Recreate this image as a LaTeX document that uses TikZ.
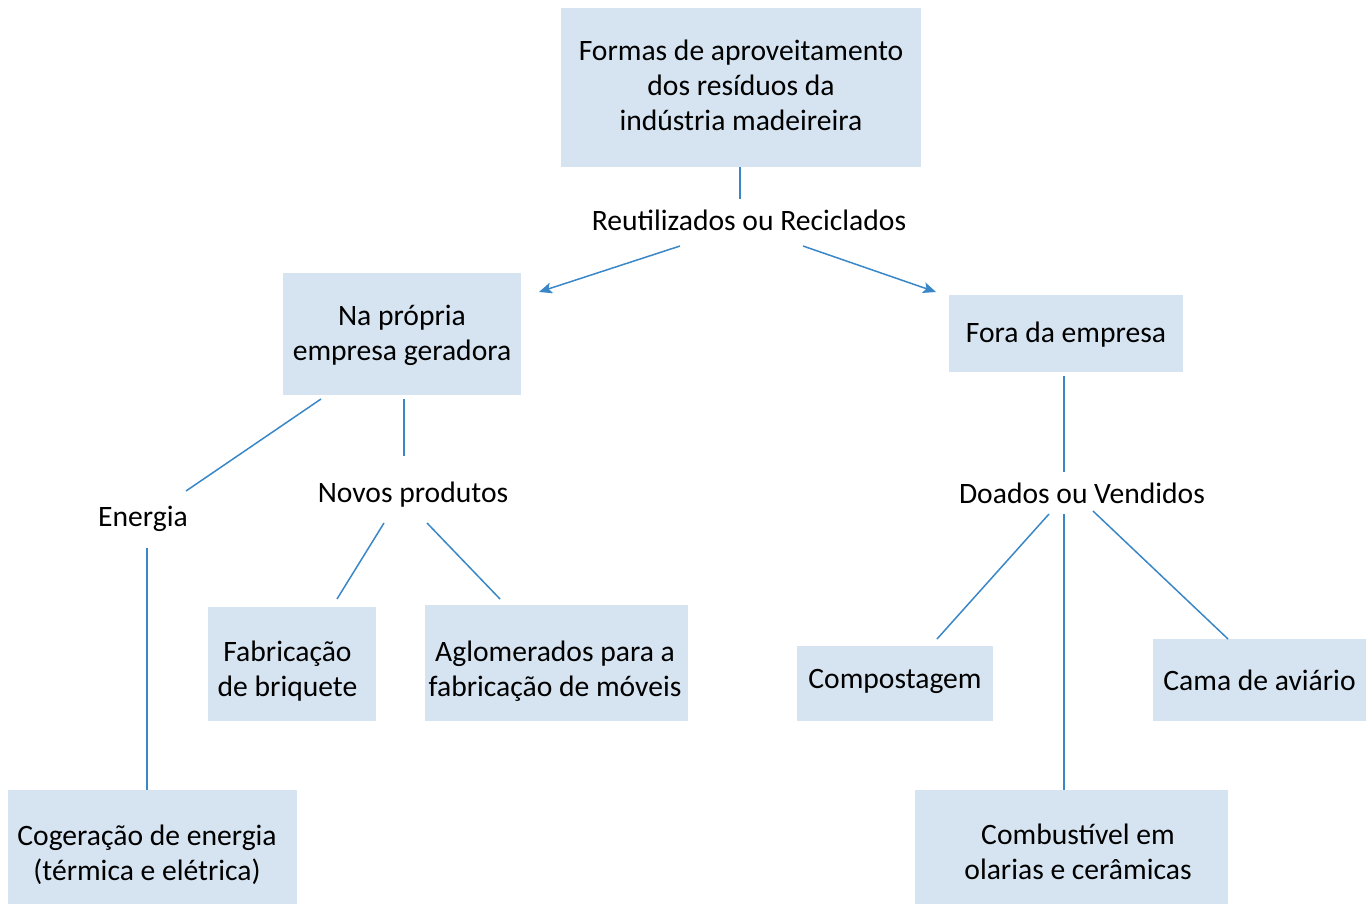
\documentclass[tikz,border=0pt]{standalone}
\usepackage{fontspec}
\setmainfont{Carlito}
\usetikzlibrary{arrows.meta}
\definecolor{boxfill}{HTML}{D6E4F1}
\definecolor{linec}{HTML}{3A87C8}
\begin{document}
\begin{tikzpicture}[x=0.5pt,y=-0.5pt,
  every node/.style={font=\fontsize{14.8}{17.5}\selectfont, align=center, text=black},
  box/.style={fill=boxfill, inner sep=0pt},
  lbl/.style={inner sep=0pt},
  ln/.style={draw=linec, line width=0.75pt},
  arr/.style={ln, -{Stealth[length=6.5pt,width=5.5pt,inset=1.5pt]}}]
\useasboundingbox (0,0) rectangle (1372,905);
% boxes
\node[box, minimum width=180pt, minimum height=79.5pt,
  label={[name=topt, inner sep=0pt, yshift=1.25pt]center:Formas de aproveitamento\\dos resíduos da\\indústria madeireira}] (top) at (741,87.5) {};
\node[lbl] (reut) at (749,220) {Reutilizados ou Reciclados};
\node[box, minimum width=119pt, minimum height=61pt,
  label={[name=napt, inner sep=0pt, yshift=-0.75pt]center:Na própria\\empresa geradora}] (nap) at (402,334) {};
\node[box, minimum width=117pt, minimum height=38.5pt,
  label={[name=forat, inner sep=0pt, yshift=-0.5pt]center:Fora da empresa}] (fora) at (1066,333.5) {};
\node[lbl] (energia) at (143,519) {Energia};
\node[lbl] (novos) at (413,495) {Novos produtos};
\node[lbl] (doados) at (1082,493) {Doados ou Vendidos};
\node[box, minimum width=84pt, minimum height=57pt,
  label={[name=briqt, inner sep=0pt, xshift=-2.25pt, yshift=-3.75pt]center:Fabricação\\de briquete}] (briq) at (292,664) {};
\node[box, minimum width=131.5pt, minimum height=58pt,
  label={[name=aglomt, inner sep=0pt, xshift=-0.75pt, yshift=-4pt]center:Aglomerados para a\\fabricação de móveis}] (aglom) at (556.5,663) {};
\node[box, minimum width=98pt, minimum height=37.5pt,
  label={[name=compt, inner sep=0pt, yshift=1pt]center:Compostagem}] (comp) at (895,683.5) {};
\node[box, minimum width=106.5pt, minimum height=41pt,
  label={[name=camat, inner sep=0pt]center:Cama de aviário}] (cama) at (1259.5,680) {};
\node[box, minimum width=156.5pt, minimum height=57pt,
  label={[name=combt, inner sep=0pt, xshift=3.25pt, yshift=-2.5pt]center:Combustível em\\olarias e cerâmicas}] (comb) at (1071.5,847) {};
\node[box, minimum width=144.5pt, minimum height=57pt,
  label={[name=cogt, inner sep=0pt, xshift=-2.75pt, yshift=-3.75pt]center:Cogeração de energia\\(térmica e elétrica)}] (cog) at (152.5,847) {};
% connectors
\draw[ln] ([xshift=-0.5pt]top.south) -- ([xshift=-4.5pt,yshift=10.5pt]reut.center);
\draw[arr] ([xshift=-34.5pt,yshift=-13pt]reut.center) -- ([xshift=68.5pt,yshift=21pt]nap.center);
\draw[arr] ([xshift=27pt,yshift=-13pt]reut.center) -- ([xshift=-65pt,yshift=20.75pt]fora.center);
\draw[ln] ([xshift=-1pt,yshift=-21.25pt]fora.center) -- ([xshift=-9pt,yshift=10.5pt]doados.center);
\draw[ln] ([xshift=-16.5pt,yshift=-10.5pt]doados.center) -- ([xshift=21pt,yshift=22.25pt]comp.center);
\draw[ln] ([xshift=-9pt,yshift=-10.5pt]doados.center) -- ([xshift=-3.75pt,yshift=28.5pt]comb.center);
\draw[ln] ([xshift=5.5pt,yshift=-9pt]doados.center) -- ([xshift=-15.75pt,yshift=20.5pt]cama.center);
\draw[ln] ([xshift=-40.5pt,yshift=-32.5pt]nap.center) -- ([xshift=21.5pt,yshift=14pt]energia.center);
\draw[ln] ([xshift=1pt,yshift=-32.5pt]nap.center) -- ([xshift=-4.5pt,yshift=19.5pt]novos.center);
\draw[ln] ([xshift=2pt,yshift=-14.5pt]energia.center) -- ([xshift=-2.75pt,yshift=28.5pt]cog.center);
\draw[ln] ([xshift=-14.5pt,yshift=-14pt]novos.center) -- ([xshift=22.5pt,yshift=32.5pt]briq.center);
\draw[ln] ([xshift=7pt,yshift=-14pt]novos.center) -- ([xshift=-28.25pt,yshift=32pt]aglom.center);
\end{tikzpicture}
\end{document}
